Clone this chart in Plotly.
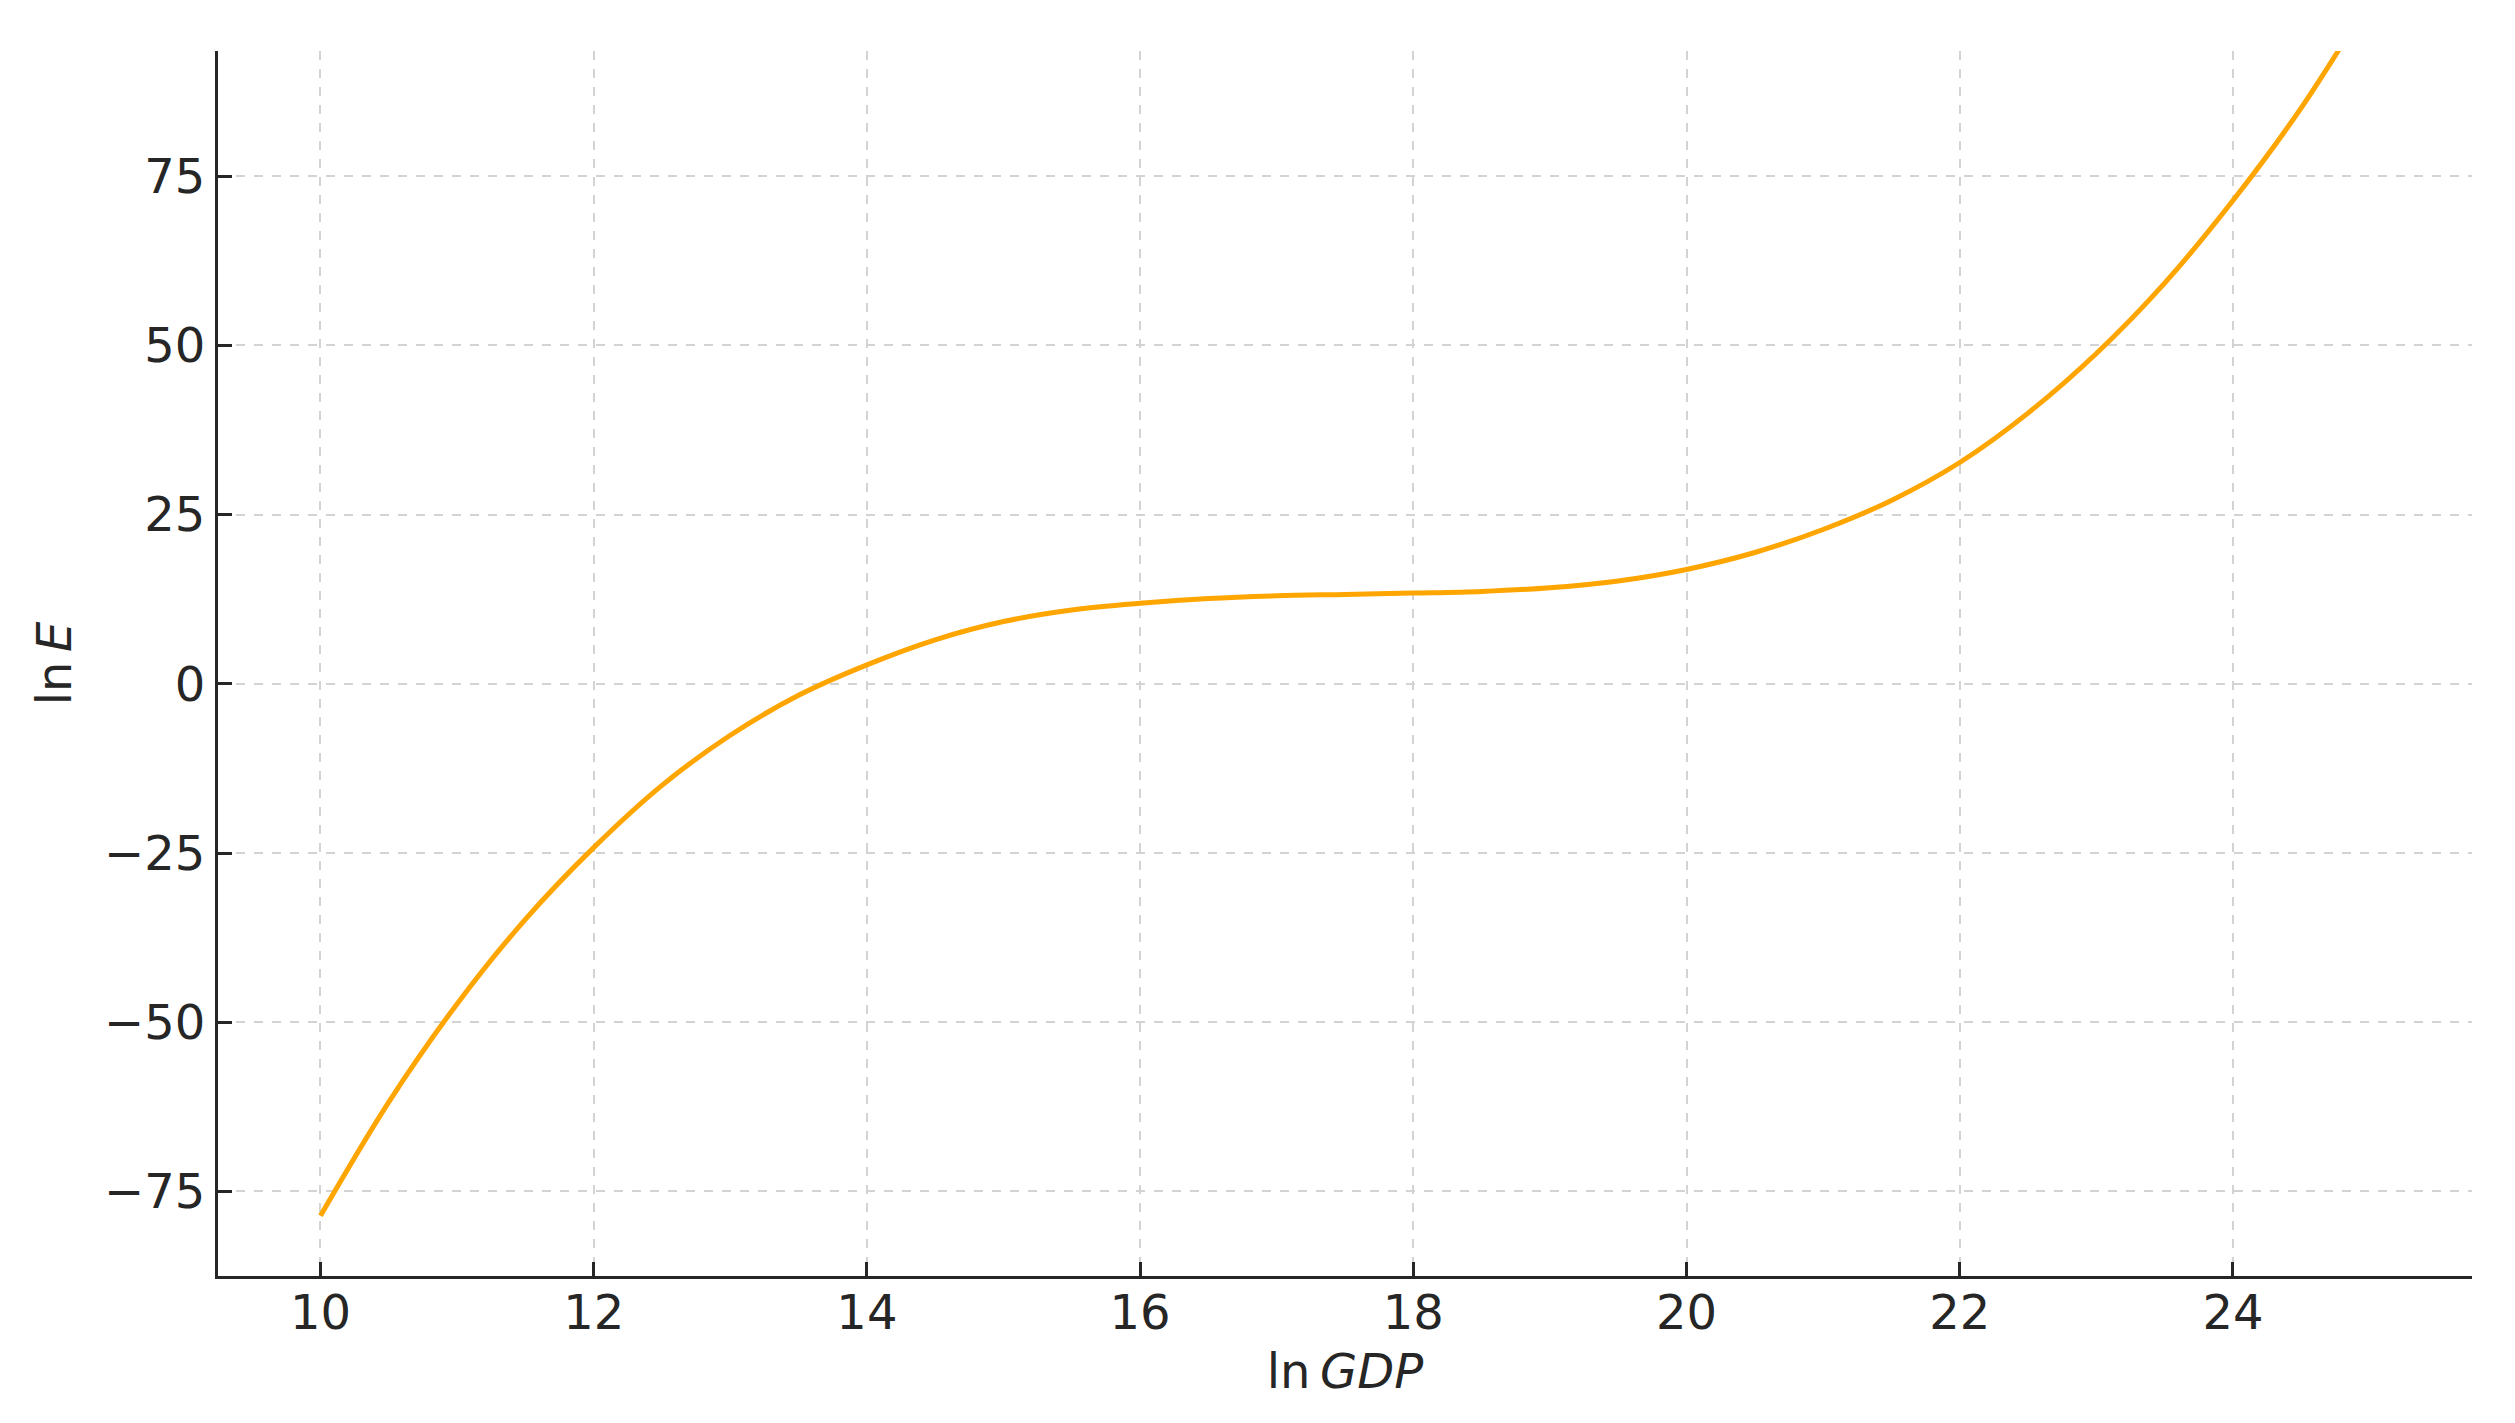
import plotly.graph_objects as go

ln_gdp = [10, 10.5, 11, 11.5, 12, 12.5, 13, 13.5, 14, 14.5, 15, 15.5, 16, 16.5, 17, 17.5,
          18, 18.5, 19, 19.5, 20, 20.5, 21, 21.5, 22, 22.5, 23, 23.5, 24, 24.5, 25]
ln_e = [-78.6, -61.8, -47.3, -34.8, -24.2, -15.0, -7.6, -1.7, 2.8, 6.5, 9.2, 10.9, 11.9, 12.6,
        13.0, 13.2, 13.4, 13.65, 14.2, 15.2, 16.9, 19.4, 22.8, 27.1, 32.7, 40.0, 48.8, 59.2,
        71.4, 85.1, 101.0]

x_ticks = [10, 12, 14, 16, 18, 20, 22, 24]
y_ticks = [-75, -50, -25, 0, 25, 50, 75]
y_tick_labels = ["\u221275", "\u221250", "\u221225", "0", "25", "50", "75"]

FONT = "DejaVu Sans"
TXT = "#262626"

fig = go.Figure()
fig.add_trace(go.Scatter(
    x=ln_gdp, y=ln_e, mode="lines",
    line=dict(color="#FFA500", width=5, shape="spline", smoothing=1.0),
    showlegend=False, hoverinfo="skip",
))

axis_common = dict(
    showgrid=True, gridcolor="#d3d3d3", gridwidth=1.6, griddash="dash",
    zeroline=False, showline=True, linecolor=TXT, linewidth=3.2,
    ticks="inside", ticklen=14, tickwidth=3, tickcolor=TXT,
    tickfont=dict(family=FONT, size=48, color=TXT),
    mirror=False,
)

# page body has an 8px default margin, so the figure is sized/offset to compensate
fig.update_layout(
    width=2507, height=1415,
    paper_bgcolor="white", plot_bgcolor="white",
    margin=dict(l=210, r=43, t=43, b=147, autoexpand=False),
    font=dict(family=FONT, color=TXT),
    xaxis=dict(
        range=[9.25, 25.75], tickvals=x_ticks, ticktext=[str(v) for v in x_ticks],
        ticklabelstandoff=-8,
        title=dict(text="ln\u2009<i>GDP</i>", font=dict(family=FONT, size=48, color=TXT), standoff=16),
        **axis_common,
    ),
    yaxis=dict(
        range=[-87.5, 93.5], tickvals=y_ticks, ticktext=y_tick_labels,
        title=dict(text="ln\u2009<i>E</i>", font=dict(family=FONT, size=48, color=TXT), standoff=18),
        **axis_common,
    ),
)

fig.write_html("out.html")
